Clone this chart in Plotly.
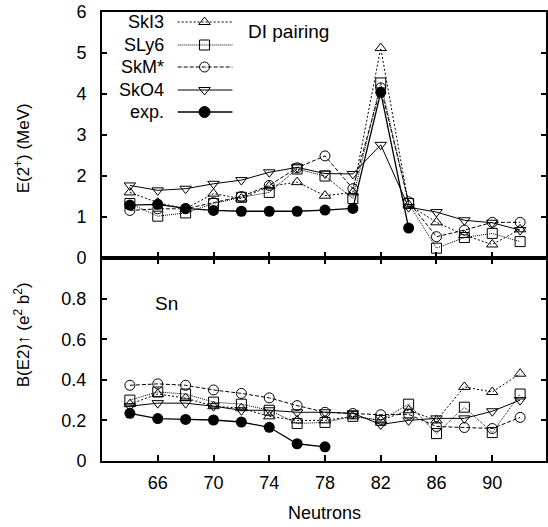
import plotly.graph_objects as go

# ---------------- data ----------------
neutrons = [64, 66, 68, 70, 72, 74, 76, 78, 80, 82, 84, 86, 88, 90, 92]
neutrons_exp_E = [64, 66, 68, 70, 72, 74, 76, 78, 80, 82, 84]
neutrons_exp_B = [64, 66, 68, 70, 72, 74, 76, 78]

series_names = ["SkI3", "SLy6", "SkM*", "SkO4"]

E_SkI3 = [1.60, 1.35, 1.20, 1.57, 1.45, 1.75, 1.85, 1.52, 1.60, 5.12, 1.30, 0.87, 0.56, 0.33, 0.70]
E_SLy6 = [1.33, 1.02, 1.10, 1.33, 1.48, 1.60, 2.17, 2.00, 1.45, 4.27, 1.33, 0.24, 0.50, 0.60, 0.40]
E_SkMs = [1.16, 1.20, 1.20, 1.35, 1.50, 1.77, 2.20, 2.49, 1.69, 4.15, 1.37, 0.52, 0.68, 0.87, 0.87]
E_SkO4 = [1.77, 1.65, 1.69, 1.81, 1.90, 2.09, 2.21, 2.06, 2.05, 2.76, 1.24, 1.12, 0.92, 0.86, 0.68]
E_exp = [1.29, 1.31, 1.21, 1.16, 1.14, 1.14, 1.14, 1.17, 1.21, 4.04, 0.73]

B_SkI3 = [0.28, 0.33, 0.31, 0.27, 0.26, 0.22, 0.20, 0.20, 0.22, 0.20, 0.25, 0.20, 0.365, 0.34, 0.43]
B_SLy6 = [0.30, 0.34, 0.33, 0.29, 0.28, 0.25, 0.185, 0.19, 0.22, 0.20, 0.28, 0.135, 0.265, 0.14, 0.33]
B_SkMs = [0.373, 0.38, 0.373, 0.35, 0.333, 0.311, 0.273, 0.24, 0.234, 0.228, 0.23, 0.17, 0.165, 0.16, 0.215]
B_SkO4 = [0.27, 0.285, 0.285, 0.27, 0.25, 0.25, 0.24, 0.24, 0.235, 0.18, 0.20, 0.21, 0.21, 0.245, 0.30]
B_exp = [0.235, 0.209, 0.205, 0.202, 0.192, 0.166, 0.085, 0.07]

x_tickvals = [66, 70, 74, 78, 82, 86, 90]
E_tickvals = [0, 1, 2, 3, 4, 5, 6]
B_tickvals = [0, 0.2, 0.4, 0.6, 0.8]
B_ticktext = ["0", "0.2", "0.4", "0.6", "0.8"]

# ---------------- styles ----------------
FONT = "Liberation Sans, Arial, Helvetica, sans-serif"
styles = {
    "SkI3": dict(symbol="triangle-up-open", dash="2px,2px"),
    "SLy6": dict(symbol="square-open", dash="1px,1px"),
    "SkM*": dict(symbol="circle-open", dash="4px,2px"),
    "SkO4": dict(symbol="triangle-down-open", dash="solid"),
}
E_data = {"SkI3": E_SkI3, "SLy6": E_SLy6, "SkM*": E_SkMs, "SkO4": E_SkO4}
B_data = {"SkI3": B_SkI3, "SLy6": B_SLy6, "SkM*": B_SkMs, "SkO4": B_SkO4}

fig = go.Figure()

for xa, ya, data, exp_x, exp_y in [
    ("x", "y", E_data, neutrons_exp_E, E_exp),
    ("x2", "y2", B_data, neutrons_exp_B, B_exp),
]:
    for name in series_names:
        st = styles[name]
        fig.add_trace(go.Scatter(
            x=neutrons, y=data[name], xaxis=xa, yaxis=ya, mode="lines+markers",
            line=dict(color="black", width=1, dash=st["dash"]),
            marker=dict(symbol=st["symbol"], size=10, color="black", line=dict(width=1, color="black")),
            showlegend=False, name=name))
    fig.add_trace(go.Scatter(
        x=exp_x, y=exp_y, xaxis=xa, yaxis=ya, mode="lines+markers",
        line=dict(color="black", width=1.3),
        marker=dict(symbol="circle", size=11, color="black"),
        showlegend=False, name="exp."))

PAGE_W, PAGE_H = 548, 527
PL, PR, PT, PB = 102, 548, 12, 461   # plot area in page pixels


def px(xp):
    return (xp - PL) / (PR - PL)


def py(yp):
    return (PB - yp) / (PB - PT)


# ---------------- custom gnuplot-like key (pixel overlay axes) ----------------
key_rows = [22, 45, 67, 90, 112]
key_names = series_names + ["exp."]
for i, name in enumerate(key_names):
    r = key_rows[i]
    if name == "exp.":
        dash, sym, msize = "solid", "circle", 11
    else:
        dash, sym, msize = styles[name]["dash"], styles[name]["symbol"], 10
    fig.add_trace(go.Scatter(x=[178, 233], y=[r, r], xaxis="x3", yaxis="y3", mode="lines",
                             line=dict(color="black", width=1.3 if name == "exp." else 1, dash=dash),
                             showlegend=False, hoverinfo="skip"))
    fig.add_trace(go.Scatter(x=[205], y=[r], xaxis="x3", yaxis="y3", mode="markers",
                             marker=dict(symbol=sym, size=msize, color="black", line=dict(width=1, color="black")),
                             showlegend=False, hoverinfo="skip"))
    fig.add_annotation(x=px(166), y=py(r), xref="paper", yref="paper", text=name, showarrow=False,
                       xanchor="right", yanchor="middle", font=dict(size=18, family=FONT, color="black"))

fig.add_annotation(x=px(247), y=py(32), xref="paper", yref="paper", text="DI pairing", showarrow=False,
                   xanchor="left", yanchor="middle", font=dict(size=19, family=FONT, color="black"))
fig.add_annotation(x=px(153), y=py(303), xref="paper", yref="paper", text="Sn", showarrow=False,
                   xanchor="left", yanchor="middle", font=dict(size=19, family=FONT, color="black"))

# axis titles
fig.add_annotation(x=px(22), y=py(148), xref="paper", yref="paper", text="E(2<sup>+</sup>) (MeV)",
                   showarrow=False, textangle=-90, xanchor="center", yanchor="middle",
                   font=dict(size=17, family=FONT, color="black"))
fig.add_annotation(x=px(22), y=py(335), xref="paper", yref="paper",
                   text="B(E2)\u2191 (e<sup>2</sup> b<sup>2</sup>)",
                   showarrow=False, textangle=-90, xanchor="center", yanchor="middle",
                   font=dict(size=17, family=FONT, color="black"))
fig.add_annotation(x=px(325), y=py(513), xref="paper", yref="paper", text="Neutrons", showarrow=False,
                   xanchor="center", yanchor="middle", font=dict(size=18, family=FONT, color="black"))

split = (PB - 258) / (PB - PT)
axis_common = dict(showgrid=False, zeroline=False, showline=True, linecolor="black", linewidth=2,
                   ticks="inside", tickcolor="black", tickwidth=1.5, ticklabeloverflow="allow",
                   tickfont=dict(size=18, family=FONT, color="black"))
xrange = [62, 62 + (PR - PL) / 14]

fig.update_layout(
    width=PAGE_W, height=PAGE_H,
    margin=dict(l=PL, r=PAGE_W - PR, t=PT, b=PAGE_H - PB),
    paper_bgcolor="white", plot_bgcolor="rgba(0,0,0,0)",
    xaxis=dict(**axis_common, anchor="y", domain=[0, 1], range=xrange,
               tickvals=x_tickvals, showticklabels=False, mirror=True, ticklen=6),
    yaxis=dict(**axis_common, anchor="x", domain=[split, 1], range=[0, 6],
               tickvals=E_tickvals, mirror="ticks", ticklen=5, ticklabelstandoff=10),
    xaxis2=dict(**axis_common, anchor="y2", domain=[0, 1], range=xrange,
                tickvals=x_tickvals, mirror="ticks", ticklen=6, ticklabelstandoff=4),
    yaxis2=dict(**axis_common, anchor="x2", domain=[0, split], range=[0, 1],
                tickvals=B_tickvals, ticktext=B_ticktext, mirror="ticks", ticklen=5, ticklabelstandoff=10),
    xaxis3=dict(domain=[0, 1], range=[PL, PR], visible=False, anchor="y3", fixedrange=True),
    yaxis3=dict(domain=[0, 1], range=[PB, PT], visible=False, anchor="x3", fixedrange=True),
    showlegend=False,
)

# remove the browser's default 8px body margin so the figure fills the window exactly
fig.write_html("out.html", config={"displayModeBar": False},
               post_script="document.body.style.margin='0';document.body.style.overflow='hidden';")
